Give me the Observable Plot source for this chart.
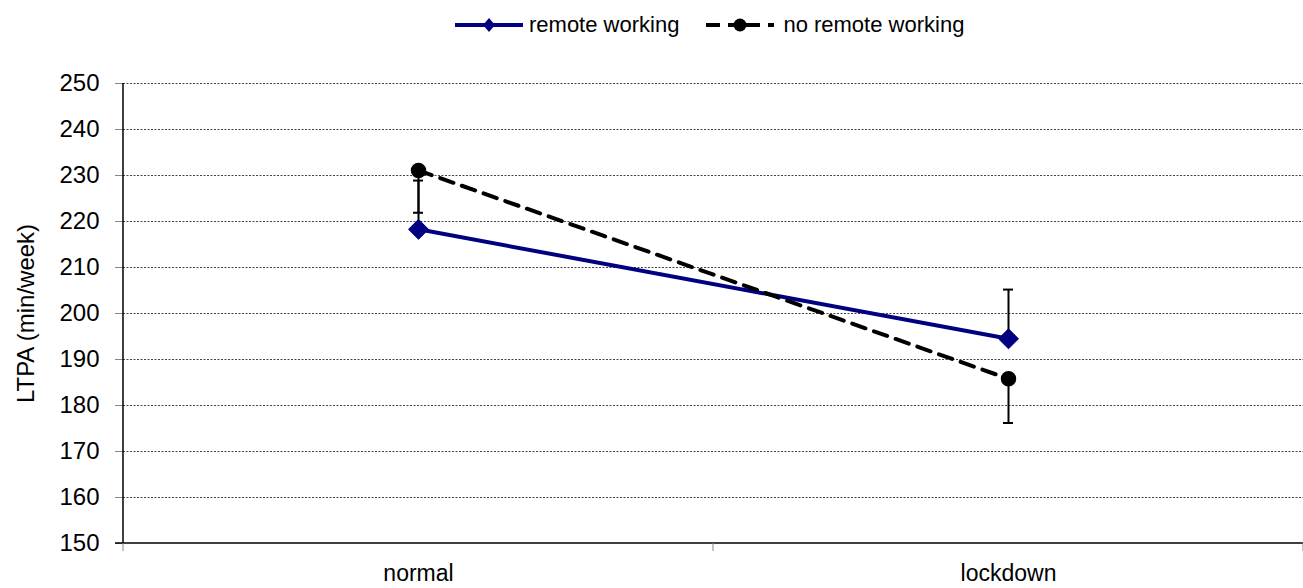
<!DOCTYPE html>
<html>
<head>
<meta charset="utf-8">
<script src="https://cdn.jsdelivr.net/npm/d3@7"></script>
<script src="https://cdn.jsdelivr.net/npm/@observablehq/plot@0.6"></script>
<style>
  html, body { margin: 0; padding: 0; background: #fff; }
  body { width: 1303px; height: 588px; overflow: hidden; font-family: "Liberation Sans", Arial, sans-serif; }
  #legend { height: 50px; display: flex; justify-content: flex-start; align-items: center; font-size: 22px; color: #000; padding-left: 454px; box-sizing: border-box; }
  #legend .item { display: flex; align-items: center; }
  #legend .item:first-child { margin-right: 26px; }
  #legend .item:nth-child(2) svg { margin-right: 8px; }
  #legend svg { margin-right: 5px; }
</style>
</head>
<body>
<div id="legend"></div>
<div id="chart"></div>
<script>
const categories = ["normal", "lockdown"];
const remoteValues = [218.3, 194.5];
const noRemoteValues = [231.1, 185.8];
const remoteErrPlus = [10.6, 10.7];
const noRemoteErrMinus = [9.2, 9.6];
const yTicks = [150, 160, 170, 180, 190, 200, 210, 220, 230, 240, 250];
const seriesNames = ["remote working", "no remote working"];

const remote = categories.map((c, i) => ({cat: c, v: remoteValues[i], lo: remoteValues[i], hi: remoteValues[i] + remoteErrPlus[i]}));
const noRemote = categories.map((c, i) => ({cat: c, v: noRemoteValues[i], lo: noRemoteValues[i] - noRemoteErrMinus[i], hi: noRemoteValues[i]}));
const errs = [...remote, ...noRemote];

const NAVY = "#000080";
const FONT = '"Liberation Sans", Arial, sans-serif';

const plot = Plot.plot({
  width: 1303,
  height: 538,
  marginTop: 33,
  marginBottom: 45,
  marginLeft: 123,
  marginRight: 0,
  style: {fontFamily: FONT, fontSize: "22px", color: "#000", background: "#fff", overflow: "visible"},
  x: {type: "band", domain: categories, padding: 0, label: null},
  y: {domain: [150, 250], label: null},
  marks: [
    Plot.gridY(yTicks.slice(1), {stroke: "#444", strokeOpacity: 1, strokeDasharray: "2,1.5", strokeWidth: 1}),
    Plot.axisY({ticks: yTicks, tickSize: 8, tickPadding: 16, fontSize: 24, label: "LTPA (min/week)", labelAnchor: "center", labelOffset: 107, labelArrow: false, stroke: "#888"}),
    Plot.axisX({tickSize: 0, tickPadding: 21, fontSize: 23, label: null}),
    // error bars
    Plot.ruleX(errs, {x: "cat", y1: "lo", y2: "hi", stroke: "#000", strokeWidth: 2}),
    Plot.tickY(remote, {x: "cat", y: "hi", stroke: "#000", strokeWidth: 2, inset: 290}),
    Plot.tickY(noRemote, {x: "cat", y: "lo", stroke: "#000", strokeWidth: 2, inset: 290}),
    // lines
    Plot.line(remote, {x: "cat", y: "v", stroke: NAVY, strokeWidth: 4}),
    Plot.line(noRemote, {x: "cat", y: "v", stroke: "#000", strokeWidth: 4, strokeDasharray: "14,9"}),
    Plot.dot(remote, {x: "cat", y: "v", symbol: "diamond2", r: 9, fill: NAVY, stroke: NAVY, strokeWidth: 1}),
    Plot.dot(noRemote, {x: "cat", y: "v", symbol: "circle", r: 7, fill: "#000", stroke: "#000"})
  ]
});
document.getElementById("chart").appendChild(plot);

// y-axis line, x-axis line and category boundary ticks
const sx = plot.scale("x");
const sy = plot.scale("y");
const svg = d3.select(plot);
const bw = sx.bandwidth;
const starts = categories.map(c => sx.apply(c));
const probeCenter = Math.abs(starts[0] - (sx.range[0] + bw / 2)) < 1;
const bounds = starts.map(s => probeCenter ? s - bw / 2 : s).concat([sx.range[1]]);
const y0 = sy.apply(150), y1 = sy.apply(250);
svg.append("line").attr("x1", sx.range[0]).attr("x2", sx.range[0]).attr("y1", y0).attr("y2", y1).attr("stroke", "#000").attr("stroke-width", 1.5);
svg.append("line").attr("x1", sx.range[0] - 8).attr("x2", sx.range[1]).attr("y1", y0).attr("y2", y0).attr("stroke", "#000").attr("stroke-width", 1.5);
bounds.forEach(b => {
  svg.append("line").attr("x1", b).attr("x2", b).attr("y1", y0).attr("y2", y0 + 8).attr("stroke", "#888").attr("stroke-width", 1);
});

// legend
const legend = d3.select("#legend");
function addItem(name, color, dash, symbol) {
  const item = legend.append("div").attr("class", "item");
  const s = item.append("svg").attr("width", 70).attr("height", 20);
  s.append("line").attr("x1", 1).attr("x2", 69).attr("y1", 10).attr("y2", 10)
    .attr("stroke", color).attr("stroke-width", 4).attr("stroke-dasharray", dash || null);
  if (symbol === "diamond") {
    s.append("path").attr("d", "M35,3L41,10L35,17L29,10Z").attr("fill", color);
  } else {
    s.append("circle").attr("cx", 35).attr("cy", 10).attr("r", 6.5).attr("fill", color);
  }
  item.append("span").text(name);
}
addItem(seriesNames[0], NAVY, null, "diamond");
addItem(seriesNames[1], "#000", "14,8,32,8,8", "circle");
</script>
</body>
</html>
